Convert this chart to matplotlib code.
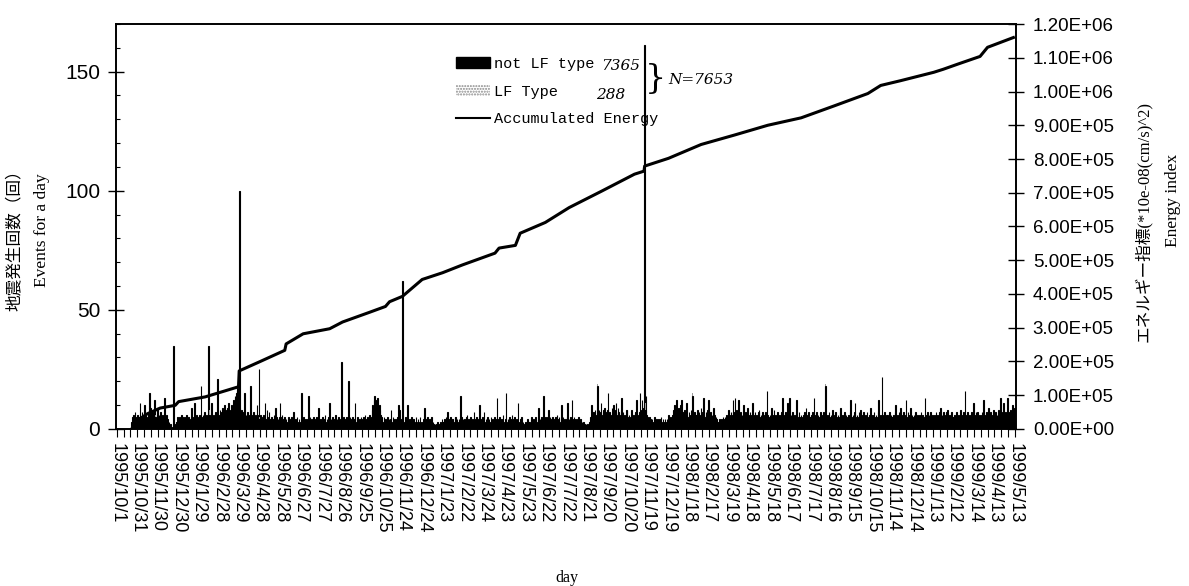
import numpy as np
import matplotlib.pyplot as plt
from matplotlib.patches import Patch
from matplotlib.lines import Line2D
from matplotlib.ticker import FixedLocator, MultipleLocator, FuncFormatter

# daily event counts (not LF type), day 0 = 1995/10/1
counts_a = [
    0, 0, 0, 0, 0, 0, 0, 0, 0, 0, 0, 0, 0, 0, 0, 0, 0, 0, 0, 0, 0, 0, 3, 5, 2, 6, 4, 7, 5, 3,
    4, 6, 3, 5, 11, 5, 4, 7, 3, 5, 6, 10, 4, 6, 3, 5, 7, 4, 15, 6, 9, 5, 4, 7, 3, 6, 12, 5, 4, 6,
    9, 4, 6, 3, 7, 5, 4, 6, 3, 5, 13, 5, 4, 6, 3, 4, 2, 3, 1, 2, 1, 0, 1, 35, 2, 1, 2, 3, 3, 5,
    4, 3, 5, 2, 4, 6, 3, 5, 4, 2, 5, 3, 4, 6, 3, 5, 2, 4, 3, 5, 9, 4, 3, 5, 11, 4, 3, 6, 2, 4,
    5, 3, 6, 4, 18, 5, 3, 6, 4, 7, 5, 3, 6, 5, 4, 35, 6, 4, 3, 11, 5, 4, 6, 3, 5, 7, 4, 6, 21, 5,
    6, 4, 8, 5, 7, 9, 6, 5, 10, 7, 6, 8, 5, 9, 11, 6, 7, 8, 6, 10, 7, 9, 12, 8, 14, 13, 15, 16, 17, 15,
    100, 9, 6, 8, 5, 7, 6, 4, 15, 5, 6, 4, 7, 5, 3, 6, 5, 18, 6, 4, 5, 7, 3, 5, 6, 4, 10, 5, 6, 25,
    4, 6, 3, 5, 2, 4, 6, 3, 11, 4, 3, 8, 5, 2, 7, 4, 3, 5, 2, 4, 3, 6, 4, 9, 3, 5, 2, 4, 3, 5,
    11, 3, 5, 6, 2, 4, 3, 5, 2, 4, 3, 2, 5, 3, 4, 2, 3, 5, 2, 4, 7, 3, 2, 4, 3, 5, 2, 3, 4, 2,
    3, 4, 15, 3, 2, 5, 3, 4, 2, 3, 4, 2, 14, 3, 5, 2, 4, 3, 2, 5, 3, 4, 2, 3, 5, 2, 4, 9, 3, 2,
    4, 2, 5, 3, 2, 4, 6, 3, 2, 4, 3, 5, 2, 11, 3, 4, 2, 5, 3, 2, 4, 3, 6, 2, 4, 3, 5, 2, 3, 4,
]
counts_b = [
    28, 4, 3, 5, 2, 4, 3, 2, 5, 3, 4, 20, 3, 5, 4, 2, 3, 5, 2, 4, 11, 3, 2, 4, 5, 3, 2, 4, 3, 5,
    3, 4, 2, 5, 3, 6, 2, 4, 3, 5, 2, 4, 6, 3, 5, 8, 10, 9, 12, 14, 11, 8, 12, 13, 9, 7, 10, 8, 6, 5,
    4, 3, 2, 5, 3, 4, 2, 3, 5, 2, 4, 3, 4, 8, 3, 2, 5, 3, 4, 2, 3, 4, 3, 5, 10, 3, 8, 4, 2, 3,
    62, 4, 3, 2, 5, 3, 4, 10, 3, 2, 4, 3, 2, 5, 3, 2, 4, 3, 2, 3, 5, 2, 3, 4, 2, 3, 5, 2, 3, 2,
    3, 4, 9, 3, 2, 4, 3, 5, 2, 3, 4, 2, 3, 5, 2, 3, 2, 1, 2, 1, 2, 3, 1, 2, 1, 2, 3, 2, 4, 3,
    3, 2, 4, 3, 5, 2, 7, 3, 2, 4, 3, 5, 2, 3, 4, 2, 3, 5, 5, 2, 4, 3, 2, 4, 3, 14, 3, 5, 2, 4,
    3, 4, 2, 3, 5, 6, 2, 4, 3, 2, 5, 3, 2, 4, 3, 7, 2, 4, 3, 5, 2, 3, 4, 10, 3, 2, 4, 3, 5, 2,
    7, 3, 2, 4, 3, 5, 2, 4, 3, 2, 5, 3, 4, 2, 3, 5, 2, 4, 3, 13, 3, 4, 2, 5, 3, 2, 4, 3, 6, 2,
    3, 4, 15, 3, 2, 4, 3, 5, 2, 4, 3, 6, 2, 4, 3, 5, 2, 3, 4, 2, 11, 3, 2, 4, 3, 5, 2, 3, 2, 1,
    2, 3, 1, 2, 4, 3, 2, 3, 2, 4, 5, 2, 3, 4, 2, 3, 5, 2, 3, 4, 9, 3, 4, 2, 5, 3, 4, 14, 3, 5,
    4, 3, 5, 2, 4, 8, 3, 5, 2, 4, 3, 5, 2, 4, 3, 5, 2, 6, 3, 4, 5, 2, 3, 4, 10, 3, 5, 2, 4, 3,
]
counts_c = [
    3, 4, 5, 11, 3, 4, 2, 5, 3, 12, 4, 3, 5, 2, 4, 3, 2, 4, 3, 5, 2, 3, 4, 2, 3, 2, 3, 1, 2, 1,
    2, 1, 2, 1, 2, 3, 5, 4, 10, 6, 5, 7, 4, 8, 6, 5, 7, 18, 6, 8, 5, 7, 11, 6, 5, 8, 6, 9, 7, 5,
    6, 8, 15, 5, 7, 4, 6, 5, 9, 6, 10, 5, 8, 7, 11, 6, 5, 9, 7, 4, 6, 8, 13, 5, 7, 4, 6, 5, 4, 8,
    8, 5, 4, 6, 3, 5, 4, 8, 5, 3, 6, 4, 5, 7, 12, 6, 4, 5, 7, 15, 8, 6, 12, 7, 9, 10, 161, 8, 14, 6,
    5, 4, 3, 5, 2, 4, 3, 4, 2, 3, 5, 2, 4, 3, 2, 4, 3, 2, 4, 3, 5, 2, 3, 4, 2, 3, 4, 2, 3, 4,
    3, 6, 4, 3, 5, 4, 3, 6, 8, 5, 10, 7, 6, 12, 8, 5, 9, 6, 7, 10, 12, 5, 7, 4, 6, 8, 5, 11, 6, 4,
    5, 7, 4, 6, 8, 5, 14, 6, 5, 7, 4, 6, 6, 5, 8, 4, 7, 5, 6, 9, 5, 7, 13, 6, 4, 5, 7, 6, 8, 5,
    12, 6, 5, 7, 4, 6, 5, 9, 4, 6, 3, 5, 4, 3, 3, 2, 4, 3, 2, 4, 3, 5, 4, 3, 5, 4, 6, 5, 4, 8,
    5, 6, 4, 7, 5, 6, 12, 7, 5, 13, 6, 8, 5, 7, 12, 6, 4, 7, 5, 6, 4, 10, 6, 5, 7, 4, 6, 9, 5, 6,
    5, 7, 4, 6, 5, 11, 6, 4, 7, 5, 6, 4, 5, 7, 8, 5, 4, 6, 5, 7, 4, 6, 5, 4, 7, 5, 16, 6, 5, 4,
    6, 5, 9, 4, 6, 5, 8, 4, 6, 5, 4, 7, 5, 4, 6, 5, 4, 7, 5, 13, 6, 4, 5, 7, 5, 6, 11, 5, 4, 13,
]
counts_d = [
    5, 6, 4, 7, 5, 4, 6, 5, 4, 12, 6, 5, 4, 7, 5, 4, 6, 5, 4, 6, 5, 7, 4, 9, 6, 4, 5, 7, 5, 4,
    5, 6, 4, 7, 5, 13, 6, 4, 5, 7, 4, 6, 5, 4, 7, 5, 6, 4, 5, 7, 4, 6, 18, 5, 4, 6, 5, 7, 4, 5,
    6, 4, 8, 5, 4, 6, 5, 7, 4, 5, 6, 4, 5, 7, 9, 5, 4, 6, 5, 4, 7, 5, 6, 4, 5, 4, 6, 5, 7, 12,
    5, 4, 6, 5, 7, 11, 5, 4, 6, 5, 4, 7, 5, 8, 4, 6, 5, 4, 7, 5, 4, 6, 5, 7, 4, 5, 6, 4, 9, 5,
    4, 6, 5, 7, 4, 5, 6, 4, 5, 7, 12, 5, 4, 6, 5, 22, 6, 4, 5, 7, 4, 6, 5, 6, 4, 5, 7, 4, 6, 5,
    5, 4, 6, 5, 7, 10, 5, 4, 6, 5, 7, 4, 9, 5, 6, 4, 7, 5, 4, 6, 12, 5, 4, 7, 5, 6, 4, 9, 5, 6,
    4, 5, 6, 4, 7, 5, 4, 6, 5, 4, 6, 5, 7, 4, 6, 5, 4, 5, 13, 6, 4, 5, 7, 4, 6, 5, 7, 4, 5, 6,
    5, 4, 6, 5, 7, 4, 6, 5, 4, 7, 5, 9, 4, 6, 5, 7, 4, 5, 6, 4, 7, 8, 5, 4, 6, 5, 4, 7, 5, 4,
    5, 6, 4, 5, 7, 4, 6, 5, 4, 6, 8, 5, 4, 6, 5, 7, 4, 16, 5, 6, 4, 7, 5, 6, 4, 5, 7, 4, 6, 11,
    5, 6, 4, 7, 5, 7, 4, 6, 5, 4, 6, 5, 7, 4, 12, 5, 6, 4, 7, 5, 4, 9, 6, 5, 7, 4, 6, 5, 4, 8,
    6, 5, 7, 4, 6, 5, 8, 6, 5, 13, 6, 4, 7, 11, 5, 6, 7, 4, 6, 13, 5, 7, 6, 4, 8, 5, 6, 10, 7, 5,
    9,
]

# LF type events (few, stacked on top)
lf_days = [40, 57, 84, 124, 136, 178, 181, 210, 331, 421, 506, 707, 777, 846, 956, 1042, 1125, 1247]
lf_counts = [1, 1, 2, 1, 2, 1, 3, 1, 2, 2, 1, 1, 3, 1, 1, 1, 2, 1]

# accumulated energy index
energy_days = [22, 30, 45, 64, 86, 91, 130, 179, 180, 211, 247, 249, 274, 313, 332, 372, 395,
               401, 420, 449, 479, 508, 556, 562, 586, 593, 630, 665, 713, 761, 775, 776, 811,
               859, 908, 957, 1006, 1054, 1104, 1123, 1152, 1201, 1215, 1236, 1269, 1280, 1318]
energy_vals = [0, 25000, 45000, 62000, 70000, 81000, 95000, 125000, 172000, 200000, 233000,
               252000, 282000, 297000, 317000, 346000, 363000, 377000, 393000, 443000, 463000,
               486000, 521000, 536000, 544000, 580000, 612000, 656000, 705000, 755000, 764000,
               779000, 802000, 843000, 871000, 900000, 922000, 957000, 994000, 1018000, 1032000,
               1057000, 1066000, 1081000, 1104000, 1131000, 1160000]

date_labels = [
    "1995/10/1", "1995/10/31", "1995/11/30", "1995/12/30", "1996/1/29", "1996/2/28",
    "1996/3/29", "1996/4/28", "1996/5/28", "1996/6/27", "1996/7/27", "1996/8/26",
    "1996/9/25", "1996/10/25", "1996/11/24", "1996/12/24", "1997/1/23", "1997/2/22",
    "1997/3/24", "1997/4/23", "1997/5/23", "1997/6/22", "1997/7/22", "1997/8/21",
    "1997/9/20", "1997/10/20", "1997/11/19", "1997/12/19", "1998/1/18", "1998/2/17",
    "1998/3/19", "1998/4/18", "1998/5/18", "1998/6/17", "1998/7/17", "1998/8/16",
    "1998/9/15", "1998/10/15", "1998/11/14", "1998/12/14", "1999/1/13", "1999/2/12",
    "1999/3/14", "1999/4/13", "1999/5/13",
]

counts = np.array(counts_a + counts_b + counts_c + counts_d)
assert len(counts) == 1321, len(counts)
days = np.arange(len(counts))

fig = plt.figure(figsize=(11.89, 5.86), dpi=100)
ax = fig.add_axes([0.0976, 0.268, 0.757, 0.691])

ax.bar(days, counts, width=1.0, color="black", edgecolor="black", linewidth=0.8)
ax.bar(lf_days, lf_counts, bottom=counts[lf_days], width=1.0, color="#9a9a9a", linewidth=0)

ax.set_xlim(-1, 1322)
ax.set_ylim(0, 170)

tick_font = "Liberation Sans"
ax.xaxis.set_major_locator(FixedLocator(np.arange(0, 1321, 30)))
ax.xaxis.set_minor_locator(FixedLocator(np.arange(0, 1321, 10)))
ax.set_xticklabels(date_labels, rotation=270, fontsize=13, family=tick_font, va="top", ha="center")
ax.tick_params(axis="x", which="both", direction="out", length=6, width=0.8, pad=4)

ax.yaxis.set_major_locator(FixedLocator([0, 50, 100, 150]))
ax.yaxis.set_minor_locator(MultipleLocator(10))
ax.tick_params(axis="y", which="major", direction="inout", length=11, width=1, pad=6, labelsize=15)
ax.tick_params(axis="y", which="minor", direction="in", length=3, width=0.8)
for lab in ax.get_yticklabels():
    lab.set_family(tick_font)

for sp in ax.spines.values():
    sp.set_linewidth(1.2)

ax2 = ax.twinx()
ax2.plot(energy_days, energy_vals, color="black", lw=2.2)
ax2.set_ylim(0, 1.2e6)
ax2.yaxis.set_major_locator(MultipleLocator(1e5))
ax2.yaxis.set_major_formatter(FuncFormatter(lambda v, p: f"{v:.2E}"))
ax2.tick_params(axis="y", direction="inout", length=12, width=1, pad=6, labelsize=13.5)
for lab in ax2.get_yticklabels():
    lab.set_family(tick_font)
for sp in ax2.spines.values():
    sp.set_linewidth(1.2)

# axis titles
fig.text(15 / 1189, 1 - 236 / 586, "地震発生回数（回）", rotation=90, ha="center", va="center",
         family=["Noto Sans CJK JP", "DejaVu Sans"], fontsize=12)
fig.text(42 / 1189, 1 - 230 / 586, "Events for a day", rotation=90, ha="center", va="center",
         family="Liberation Serif", fontsize=12.5)
fig.text(1143 / 1189, 1 - 222 / 586, "エネルギー指標(*10e-08(cm/s)^2)", rotation=90, ha="center",
         va="center", family=["Liberation Serif", "Noto Sans CJK JP"], fontsize=12)
fig.text(1173 / 1189, 1 - 200 / 586, "Energy index", rotation=90, ha="center", va="center",
         family="Liberation Serif", fontsize=12.5)
fig.text(567 / 1189, 1 - 578 / 586, "day", ha="center", va="center", family="Liberation Serif",
         fontsize=11.5)

# legend
handles = [Patch(facecolor="black", edgecolor="black"),
           Patch(facecolor="white", edgecolor="#888888", hatch="......", linewidth=0),
           Line2D([0], [0], color="black", lw=1.5)]
labels = ["not LF type", "LF Type", "Accumulated Energy"]
ax2.legend(handles, labels, loc="upper left", bbox_to_anchor=(456 / 1189, 1 - 57 / 586),
           bbox_transform=fig.transFigure, frameon=False,
           prop=dict(family="Liberation Mono", size=11), handlelength=2.2, handleheight=0.7,
           handletextpad=0.3, labelspacing=0.9, borderpad=0, borderaxespad=0)

hand = dict(style="italic", family="DejaVu Serif", fontsize=11, va="center")
fig.text(601 / 1189, 1 - 66 / 586, "7365", **hand)
fig.text(596 / 1189, 1 - 95 / 586, "288", **hand)
fig.text(655 / 1189, 1 - 79 / 586, "}", family="DejaVu Serif", fontsize=24, ha="center", va="center")
fig.text(668 / 1189, 1 - 80 / 586, "N=7653", **hand)

fig.savefig("out.png", dpi=100)
